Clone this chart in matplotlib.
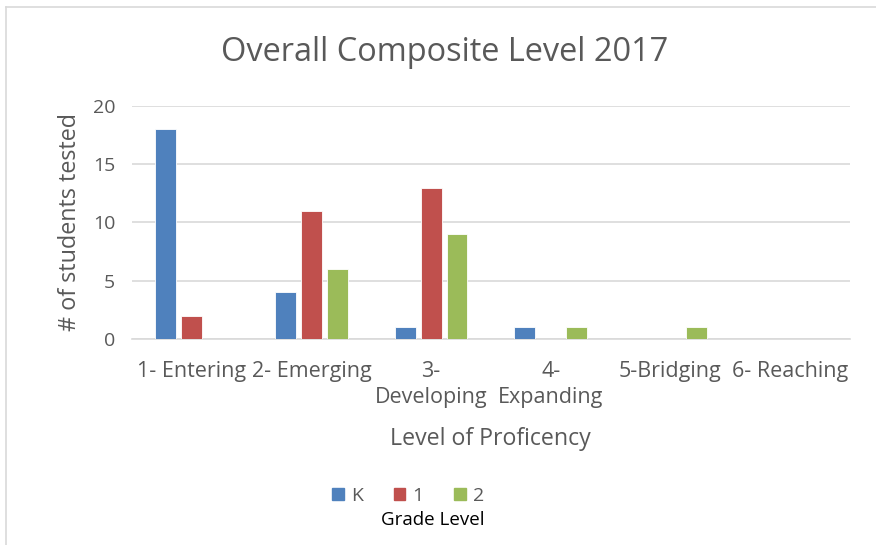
import numpy as np
import matplotlib.pyplot as plt
from matplotlib.patches import Rectangle

plt.rcParams['font.family'] = ['Open Sans', 'DejaVu Sans']

levels = ["1- Entering", "2- Emerging", "3-\nDeveloping", "4-\nExpanding", "5-Bridging", "6- Reaching"]
grades = ["K", "1", "2"]
k_vals = [18, 4, 1, 1, 0, 0]
g1_vals = [2, 11, 13, 0, 0, 0]
g2_vals = [0, 6, 9, 1, 1, 0]
colors = ["#4F81BD", "#C0504D", "#9BBB59"]
txt = "#595959"

fig = plt.figure(figsize=(8.76, 5.45), dpi=100)
ax = fig.add_axes([0.1507, 0.378, 0.8193, 0.4275])

ind = np.arange(len(levels))
width = 0.175
step = 0.217
series = [k_vals, g1_vals, g2_vals]
for i in range(3):
    vals = np.array(series[i], dtype=float)
    ax.bar(ind + (i - 1) * step, vals, width, color=colors[i], label=grades[i],
           edgecolor="white", linewidth=0.6, zorder=3)

ax.set_xlim(-0.5, len(levels) - 0.5)
ax.set_ylim(0, 20)
ax.set_yticks([0, 5, 10, 15, 20])
ax.yaxis.grid(True, color="#D9D9D9", linewidth=1.2, zorder=0)
for s in ["top", "right", "left"]:
    ax.spines[s].set_visible(False)
ax.spines["bottom"].set_color("#D9D9D9")
ax.spines["bottom"].set_linewidth(1.2)
ax.tick_params(axis="y", length=0, labelsize=14, labelcolor=txt, pad=12)
ax.tick_params(axis="x", length=0, labelsize=15.5, labelcolor=txt, pad=16)
ax.set_xticks(ind)
ax.set_xticklabels(levels, linespacing=1.3, va="top")

ax.set_ylabel("# of students tested", fontsize=16.8, color=txt, labelpad=8)
ax.set_xlabel("Level of Proficency", fontsize=16.7, color=txt, labelpad=14)

fig.text(0.508, 0.903, "Overall Composite Level 2017", ha="center", va="center",
         fontsize=23.4, color=txt)

handles = [Rectangle((0, 0), 1, 1, color=c) for c in colors]
fig.legend(handles, grades, loc="center", bbox_to_anchor=(0.466, 0.09), ncol=3,
           frameon=False, fontsize=14, labelcolor=txt, handlelength=0.6,
           handleheight=0.6, handletextpad=0.35, columnspacing=1.6)
fig.text(0.494, 0.046, "Grade Level", ha="center", va="center", fontsize=13.5, color="black")

# chart border (top and left edges visible in the crop)
fig.add_artist(plt.Line2D([0.007, 1.0], [0.988, 0.988], color="#D9D9D9", linewidth=1.2))
fig.add_artist(plt.Line2D([0.007, 0.007], [0.0, 0.988], color="#D9D9D9", linewidth=1.2))

fig.savefig("out.png", dpi=100)
